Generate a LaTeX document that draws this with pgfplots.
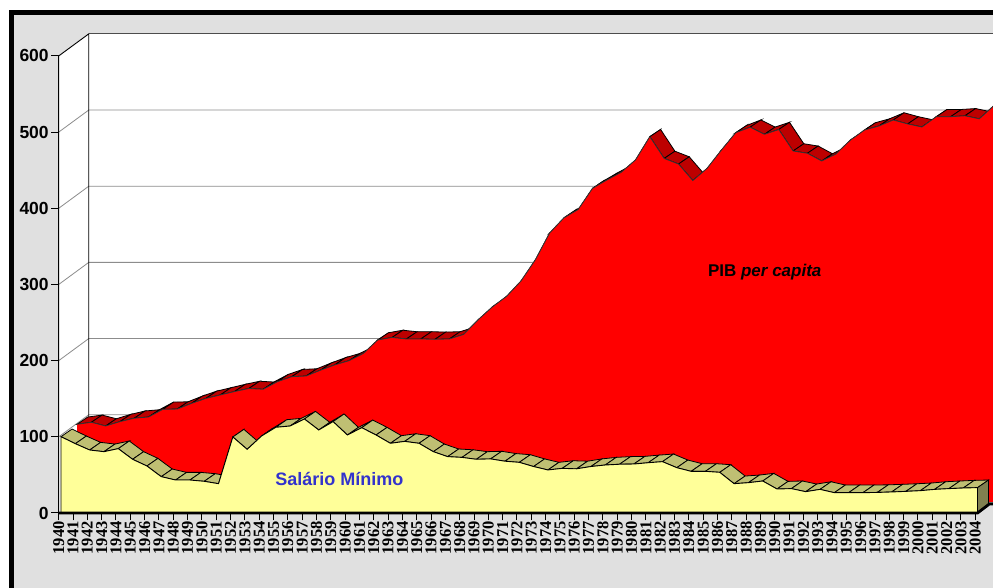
\documentclass[border=0pt]{standalone}
\usepackage{fontspec}
\setmainfont{Liberation Sans}
\newfontfamily\timesf{Liberation Serif}
\usepackage{pgfplots}
\usepackage{pgfplotstable}
\pgfplotsset{compat=1.18}
\definecolor{bgG}{HTML}{E0E0E0}
\definecolor{yfront}{HTML}{FFFF99}
\definecolor{yrib}{HTML}{BFBF73}
\definecolor{ycap}{HTML}{808050}
\definecolor{rrib}{HTML}{BD0000}
\definecolor{gridg}{HTML}{8C8C8C}
\definecolor{lblue}{HTML}{3333CC}
\pgfplotstableread{
year sal pib
1940 100.2 102
1941 91 104.6
1942 82.7 99.8
1943 80.5 105.5
1944 84.5 110
1945 70.5 111.6
1946 61.7 121.7
1947 47.7 122
1948 43.3 129.5
1949 43.3 136
1950 41.6 140.5
1951 38.5 145
1952 99.8 149
1953 83.6 148
1954 101 158
1955 112.5 164.5
1956 114.2 165.4
1957 123.4 173
1958 109 180
1959 120 185.5
1960 102.4 195
1961 112 212.7
1962 102.4 216
1963 91.5 214
1964 94 214
1965 91.5 213.6
1966 80.5 214
1967 74 220
1968 73 239
1969 70.5 256
1970 71 270
1971 68 290
1972 66.5 317.7
1973 61 353
1974 56.5 373
1975 58.6 384
1976 58 411.8
1977 61 422.7
1978 63 432.8
1979 64 449
1980 64.3 479.6
1981 66 451
1982 67.4 443.7
1983 59.5 422
1984 54.7 438
1985 54.7 462
1986 53.4 484.8
1987 38.5 492
1988 39.8 482.7
1989 42 489
1990 31.5 460.8
1991 32 457.8
1992 28 447.7
1993 31 456.9
1994 26.7 475
1995 26.7 488.4
1996 26.7 493.6
1997 27 501.5
1998 27.6 496.3
1999 28.4 492.3
2000 29.3 505.8
2001 31 505.8
2002 32 507
2003 32.8 503
2004 33.3 519.9
}\T
% #1 column, #2 x offset, #3 y offset, #4 depth x, #5 depth y, #6 colour
\newcommand\ribbon[6]{%
  \pgfplotsforeachungrouped \i in {0,...,63}{%
    \pgfmathtruncatemacro\j{\i+1}%
    \pgfplotstablegetelem{\i}{year}\of\T \let\xa\pgfplotsretval
    \pgfplotstablegetelem{\j}{year}\of\T \let\xb\pgfplotsretval
    \pgfplotstablegetelem{\i}{#1}\of\T \let\ya\pgfplotsretval
    \pgfplotstablegetelem{\j}{#1}\of\T \let\yb\pgfplotsretval
    \pgfmathsetmacro\pax{\xa+#2}\pgfmathsetmacro\pay{\ya+#3}%
    \pgfmathsetmacro\pbx{\xb+#2}\pgfmathsetmacro\pby{\yb+#3}%
    \pgfmathsetmacro\qax{\pax+#4}\pgfmathsetmacro\qay{\pay+#5}%
    \pgfmathsetmacro\qbx{\pbx+#4}\pgfmathsetmacro\qby{\pby+#5}%
    \edef\temp{\noexpand\addplot[fill=#6, draw=black, line width=0.8pt] coordinates {(\pax,\pay)(\pbx,\pby)(\qbx,\qby)(\qax,\qay)} --cycle;}%
    \temp
  }%
}
\begin{document}
\begin{tikzpicture}[x=1pt,y=1pt]
\useasboundingbox (0,0) rectangle (993,588);
\fill[white] (0,0) rectangle (993,588);
\fill[bgG] (9,0) rectangle (993,578);
\fill[black] (9.3,0) rectangle (14,578);
\fill[black] (9.3,573.4) rectangle (993,578);
\begin{axis}[
  at={(58.7pt,75pt)}, anchor=south west,
  scale only axis, width=934.3pt, height=479.9pt,
  xmin=1940, xmax=2005.24, ymin=0, ymax=630,
  clip=false,
  axis line style={draw=none},
  xtick={1940,1941,...,2004}, ytick={0,100,...,600},
  xtick pos=bottom, ytick pos=left, tick align=outside,
  major tick length=7.5pt,
  tick style={black, line width=1pt},
  /pgf/number format/assume math mode=true,
  /pgf/number format/1000 sep={},
  xticklabel style={rotate=90, anchor=east, xshift=0.5pt, yshift=0pt,
     font=\timesf\bfseries\fontsize{16.5}{17}\selectfont, inner sep=0pt, outer sep=1.5pt},
  yticklabel style={font=\bfseries\fontsize{17.5}{18}\selectfont, inner sep=0pt, outer sep=1.5pt},
  y tick label style={xshift=-1pt},
  every axis plot/.append style={mark=none},
]
% walls
\addplot[fill=white, draw=none] coordinates {(1940,0)(1940,600)(1942.1,629)(2005.24,629)(2005.24,14.44)(2004.16,0)} --cycle;
% grid
\addplot[gridg, line width=0.8pt] coordinates {(1940,100)(1942.1,129)(2005.24,129)};
\addplot[gridg, line width=0.8pt] coordinates {(1940,200)(1942.1,229)(2005.24,229)};
\addplot[gridg, line width=0.8pt] coordinates {(1940,300)(1942.1,329)(2005.24,329)};
\addplot[gridg, line width=0.8pt] coordinates {(1940,400)(1942.1,429)(2005.24,429)};
\addplot[gridg, line width=0.8pt] coordinates {(1940,500)(1942.1,529)(2005.24,529)};
\addplot[black!70, line width=0.9pt] coordinates {(1942.1,629)(2005.24,629)};
\addplot[black, line width=0.9pt] coordinates {(1940,0)(1940,600)(1942.1,629)(1942.1,100)};
% PIB ribbon
\ribbon{pib}{1.278}{14.44}{0.75}{9.5}{rrib}
% PIB front
\addplot[fill=red, draw=none] table[x expr=\thisrow{year}+1.278, y expr=\thisrow{pib}+14.44] {\T} -- (axis cs:2005.278,14.44) -- (axis cs:1941.278,14.44) -- cycle;
\addplot[black!80, line width=0.8pt] table[x expr=\thisrow{year}+1.278, y expr=\thisrow{pib}+14.44] {\T};
% Salario ribbon
\ribbon{sal}{0.16}{0}{0.77}{10}{yrib}
% end cap
\addplot[fill=ycap, draw=black, line width=0.8pt] coordinates {(2004.16,33.3)(2004.93,43.3)(2004.93,10)(2004.16,0)} --cycle;
% Salario front
\addplot[fill=yfront, draw=black, line width=0.9pt] table[x expr=\thisrow{year}+0.16, y expr=\thisrow{sal}] {\T} -- (axis cs:2004.16,0) -- (axis cs:1940.16,0) -- cycle;
% floor edge
\addplot[black, line width=2.8pt] coordinates {(1940,0)(2004.16,0)(2005.0,12)(2005.24,12)};
\node[font=\bfseries\fontsize{18}{20}\selectfont, text=lblue, inner sep=0pt] at (axis cs:1959.6,44.6) {Salário Mínimo};
\node[font=\fontsize{17}{20}\selectfont, text=black, inner sep=0pt] at (axis cs:1989.3,316) {\bfseries PIB \itshape per capita};
\end{axis}
\end{tikzpicture}
\end{document}
